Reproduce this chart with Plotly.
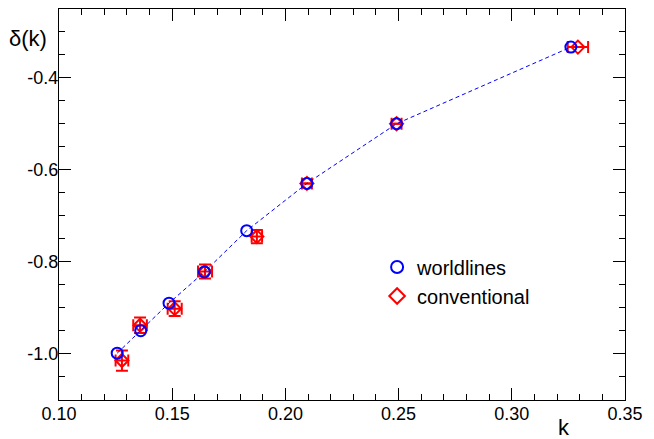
import plotly.graph_objects as go

# worldlines (blue circles)
k_world = [0.1257, 0.1361, 0.1486, 0.1642, 0.1829, 0.2095, 0.2491, 0.3261]
d_world = [-1.000, -0.951, -0.891, -0.823, -0.733, -0.630, -0.500, -0.333]

# conventional (red diamonds with errors)
k_conv = [0.1278, 0.1358, 0.1511, 0.1645, 0.1874, 0.2095, 0.2491, 0.3292]
d_conv = [-1.016, -0.939, -0.903, -0.822, -0.746, -0.630, -0.500, -0.333]
err_k = [0.0028, 0.0030, 0.0031, 0.0031, 0.0023, 0.0022, 0.0022, 0.0045]
err_d = [0.022, 0.017, 0.016, 0.015, 0.0145, None, None, None]

x_tickvals = [0.10, 0.15, 0.20, 0.25, 0.30, 0.35]
x_ticktext = ["0.10", "0.15", "0.20", "0.25", "0.30", "0.35"]
y_tickvals = [-1.0, -0.8, -0.6, -0.4]
y_ticktext = ["-1.0", "-0.8", "-0.6", "-0.4"]

FONT = "Liberation Sans, Arial, Helvetica, sans-serif"

fig = go.Figure()

fig.add_trace(go.Scatter(
    x=k_conv, y=d_conv, mode="markers", name="conventional",
    marker=dict(symbol="diamond-open", size=10, color="#ff0000", line=dict(width=2, color="#ff0000")),
    error_x=dict(type="data", array=err_k, color="#ff0000", thickness=2, width=6),
    error_y=dict(type="data", array=err_d, color="#ff0000", thickness=2, width=6),
    legendrank=2,
))
fig.add_trace(go.Scatter(
    x=k_world, y=d_world, mode="lines", showlegend=False,
    line=dict(color="#0000ff", width=1, dash="4px,3px"),
))
fig.add_trace(go.Scatter(
    x=k_world, y=d_world, mode="markers", name="worldlines",
    marker=dict(symbol="circle-open", size=11, color="#0000ff", line=dict(width=2, color="#0000ff")),
    legendrank=1,
))

fig.update_layout(
    width=646, height=431,
    margin=dict(l=51, r=29, t=1, b=39),
    paper_bgcolor="white", plot_bgcolor="white",
    font=dict(family=FONT, size=18, color="black"),
    showlegend=True,
    legend=dict(x=0.562, y=0.39, xanchor="left", yanchor="top",
                bgcolor="rgba(0,0,0,0)", font=dict(size=20), tracegroupgap=0,
                itemsizing="constant"),
)
fig.update_xaxes(
    range=[0.10, 0.35], showgrid=False, zeroline=False,
    showline=True, linecolor="black", linewidth=1, mirror="ticks",
    ticks="inside", ticklen=12, tickcolor="black", tickwidth=1,
    tickvals=x_tickvals, ticktext=x_ticktext, ticklabelstandoff=-3,
    minor=dict(ticks="inside", dtick=0.01, ticklen=6, tickcolor="black", tickwidth=1, showgrid=False),
)
fig.update_yaxes(
    range=[-1.102, -0.25], showgrid=False, zeroline=False,
    showline=True, linecolor="black", linewidth=1, mirror="ticks",
    ticks="inside", ticklen=12, tickcolor="black", tickwidth=1,
    tickvals=y_tickvals, ticktext=y_ticktext, ticklabelstandoff=-4,
    minor=dict(ticks="inside", dtick=0.05, tick0=-1.0, ticklen=6, tickcolor="black", tickwidth=1, showgrid=False),
)
fig.add_annotation(text="δ(k)", xref="paper", yref="paper", x=-0.055, y=0.925,
                   xanchor="center", yanchor="middle", showarrow=False, font=dict(size=22))
fig.add_annotation(text="k", xref="paper", yref="paper", x=0.893, y=-0.07,
                   xanchor="center", yanchor="middle", showarrow=False, font=dict(size=22))

fig.write_html("out.html")
